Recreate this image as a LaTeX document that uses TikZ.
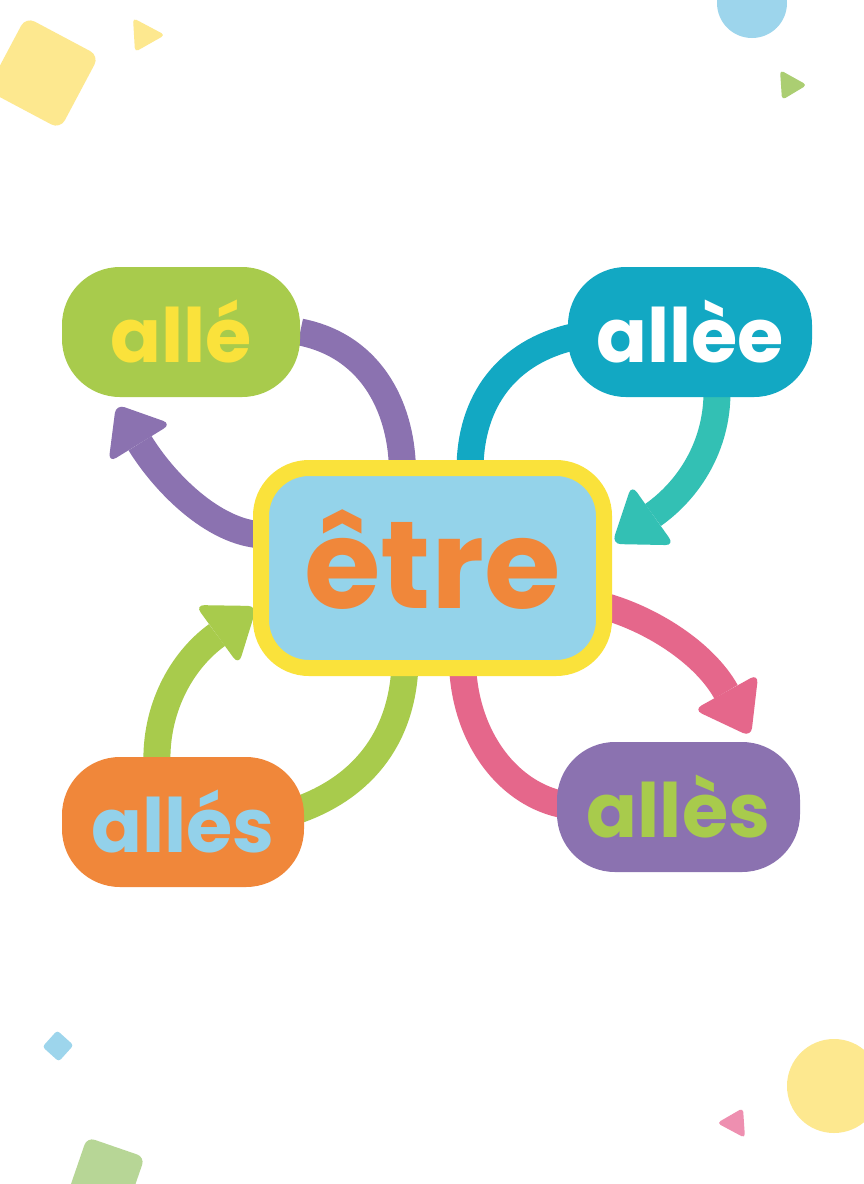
\documentclass[tikz,border=0pt]{standalone}
\usepackage{fontspec}
\setmainfont{Poppins}
\usetikzlibrary{calc}
\pgfdeclarelayer{bg}
\pgfsetlayers{bg,main}
\definecolor{cgreen}{HTML}{A8CB4C}
\definecolor{cyellow}{HTML}{FAE23B}
\definecolor{cteal}{HTML}{12A8C3}
\definecolor{corange}{HTML}{F0873A}
\definecolor{clblue}{HTML}{93D1EA}
\definecolor{cpurple}{HTML}{8B72B0}
\definecolor{cbox}{HTML}{94D3EA}
\definecolor{cmint}{HTML}{33C0B4}
\definecolor{cpink}{HTML}{E5678B}
\definecolor{dyellow}{HTML}{FDE88F}
\definecolor{dblue}{HTML}{9DD5EC}
\definecolor{dgreen}{HTML}{B7D696}
\definecolor{dpink}{HTML}{EE8FB0}
\definecolor{dlgreen}{HTML}{ABCE72}
\newcommand\pilltext{\fontsize{75}{75}\selectfont\bfseries}
\newcommand\boxtext{\fontsize{124}{124}\selectfont\bfseries}
\newcommand\arrowhead[3]{\fill[#1, rounded corners=9pt] (#2) -- ($(#3)!37pt!90:(#2)$) -- ($(#3)!37pt!-90:(#2)$) -- cycle;}
\begin{document}
\begin{tikzpicture}[x=1pt,y=-1pt,
  pill/.style={rounded corners=58pt, minimum height=130pt, inner sep=0pt, font=\pilltext},
  arcline/.style={line width=27pt},
  deco/.style={rounded corners=4pt}]
\useasboundingbox (0,0) rectangle (864,1184);
\begin{pgfonlayer}{bg}
\fill[white] (0,0) rectangle (864,1184);
% decorations
\fill[dyellow, rounded corners=10pt, rotate around={-28:(43,73)}] (1.5,31.5) rectangle (84.5,114.5);
\fill[dyellow, deco] (133,18) -- (165,35) -- (135,52) -- cycle;
\fill[dblue] (752,3) circle[radius=35];
\fill[dlgreen, deco] (780,70) -- (807,85) -- (782,100) -- cycle;
\fill[dblue, rounded corners=3pt, rotate around={-42:(58,1046)}] (47,1035) rectangle (69,1057);
\fill[dgreen, rounded corners=8pt, rotate around={-19:(106,1176)}] (75.5,1145.5) rectangle (136.5,1206.5);
\fill[dpink, deco] (717,1123) -- (743,1108) -- (745,1138) -- cycle;
\fill[dyellow] (834,1086) circle[radius=47];
\end{pgfonlayer}

\node[pill, fill=cgreen, text=cyellow, minimum width=238pt] (alle) at (181,332) {allé};
\node[pill, fill=cteal, text=white, minimum width=244pt] (allee) at (690,332) {allèe};
\node[pill, fill=corange, text=clblue, minimum width=242pt] (alles) at (183,822) {allés};
\node[pill, fill=cpurple, text=cgreen, minimum width=243pt] (allesg) at (678.5,807) {allès};
\node[draw=cyellow, line width=16pt, fill=cbox, rounded corners=48pt, minimum width=343pt, minimum height=200pt, inner sep=0pt] (etre) at (432.5,568) {};
\node[font=\boxtext, text=corange, inner sep=0pt] (etrelabel) at ($(etre.center)+(0,-8)$) {être};

% arrow tips (T) and head bases (M)
\coordinate (pT) at ($(alle.south)+(-65,7)$);
\coordinate (pM) at ($(alle.south)+(-41,46)$);
\coordinate (mT) at ($(etre.east)+(0,-24)$);
\coordinate (mM) at ($(etre.east)+(41,-53)$);
\coordinate (kT) at ($(allesg.north)+(72.5,-5)$);
\coordinate (kM) at ($(allesg.north)+(47.5,-50)$);
\coordinate (gT) at ($(etre.west)+(4,38)$);
\coordinate (gM) at ($(etre.west)+(-36,67)$);

\begin{pgfonlayer}{bg}
\draw[arcline, cpurple] (alle.east) .. controls +(75,15) and +(0,-60) .. ($(etre.north)+(-30,13)$);
\draw[arcline, cpurple] ($(etre.west)+(10,-33)$) .. controls +(-50,-2) and ($(pM)!-45pt!(pT)$) .. (pM);
\arrowhead{cpurple}{pT}{pM}
\draw[arcline, cteal] ($(allee.west)+(5,5)$) .. controls +(-65,15) and +(0,-70) .. ($(etre.north)+(37.5,10)$);
\draw[arcline, cmint] ($(allee.south)+(27,-5)$) .. controls +(0,53) and ($(mM)!-45pt!(mT)$) .. (mM);
\arrowhead{cmint}{mT}{mM}
\draw[arcline, cpink] ($(etre.east)+(-12,37)$) .. controls +(50,13) and ($(kM)!-45pt!(kT)$) .. (kM);
\arrowhead{cpink}{kT}{kM}
\draw[arcline, cpink] ($(etre.south)+(30,-11)$) .. controls +(3,75) and +(-55,-10) .. ($(allesg.west)+(8,-2)$);
\draw[arcline, cgreen] ($(etre.south)+(-27.5,-11)$) .. controls +(-3,75) and +(68,-22) .. ($(alles.east)+(-12,-10)$);
\draw[arcline, cgreen] ($(alles.north)+(-26,8)$) .. controls +(-2,-55) and ($(gM)!-45pt!(gT)$) .. (gM);
\arrowhead{cgreen}{gT}{gM}
\end{pgfonlayer}
\end{tikzpicture}
\end{document}
